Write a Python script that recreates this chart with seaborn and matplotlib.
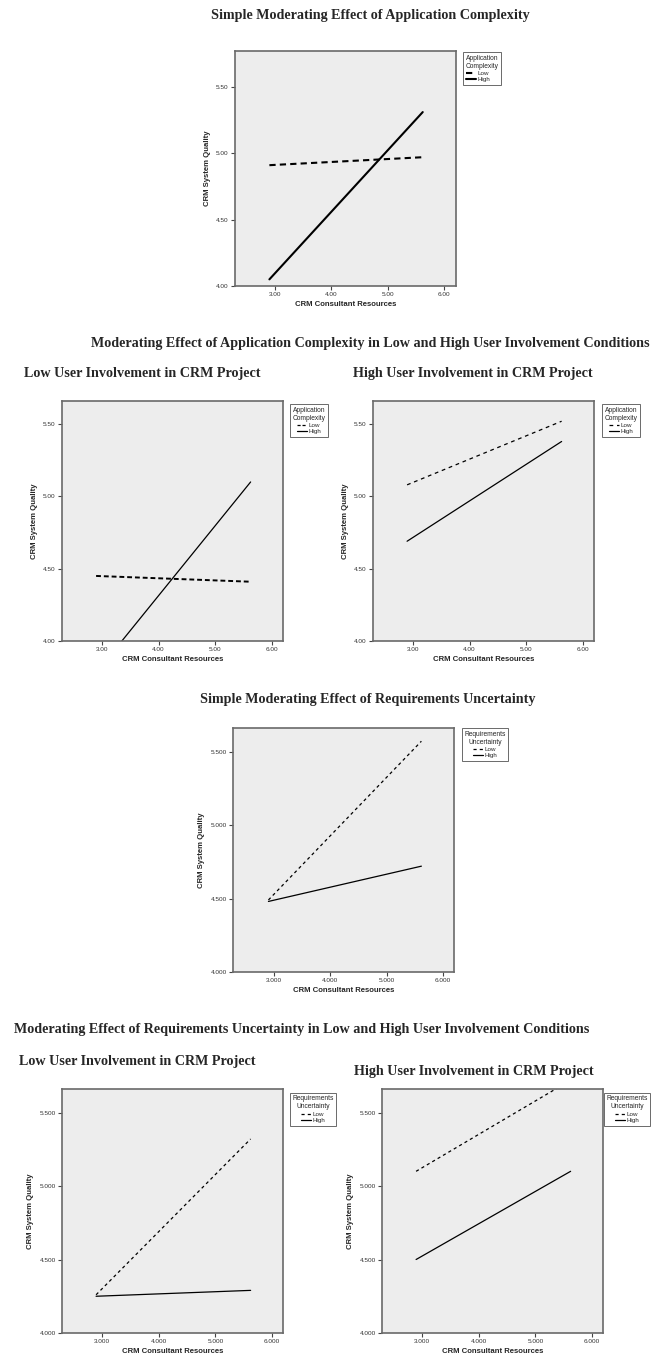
import pandas as pd
import seaborn as sns
import matplotlib.pyplot as plt
from matplotlib.ticker import FormatStrFormatter

# ========= DATA =========
X_ENDS = [2.9, 5.62]
GROUPS = ["Low", "High"]

# application complexity
ac_simple_low = [4.91, 4.97]
ac_simple_high = [4.05, 5.31]
ac_lowui_low = [4.45, 4.41]
ac_lowui_high = [3.78, 5.10]
ac_highui_low = [5.08, 5.52]
ac_highui_high = [4.69, 5.38]

# requirements uncertainty
ru_simple_low = [4.49, 5.57]
ru_simple_high = [4.48, 4.72]
ru_lowui_low = [4.26, 5.32]
ru_lowui_high = [4.25, 4.29]
ru_highui_low = [5.10, 5.72]
ru_highui_high = [4.50, 5.10]

X_TICKS = [3, 4, 5, 6]
Y_TICKS = [4.0, 4.5, 5.0, 5.5]

MAIN_TITLES = [
    "Simple Moderating Effect of Application Complexity",
    "Moderating Effect of Application Complexity in Low and High User Involvement Conditions",
    "Simple Moderating Effect of Requirements Uncertainty",
    "Moderating Effect of Requirements Uncertainty in Low and High User Involvement Conditions",
]
SUB_LOW = "Low User Involvement in CRM Project"
SUB_HIGH = "High User Involvement in CRM Project"
XLABEL = "CRM Consultant Resources"
YLABEL = "CRM System Quality"

# ========= STYLE =========
sns.set_style("white")
plt.rcParams["font.family"] = ["Liberation Sans", "DejaVu Sans"]
SERIF = ["Liberation Serif", "DejaVu Serif"]
TITLE_SIZE = 10.2

W, H = 657, 1358
fig = plt.figure(figsize=(W / 100, H / 100), dpi=100)


def px_axes(left, top, right, bottom):
    return fig.add_axes([left / W, 1 - bottom / H, (right - left) / W, (bottom - top) / H])


def fig_title(text, xc, yc):
    fig.text(xc / W, 1 - yc / H, text, ha="center", va="center",
             fontsize=TITLE_SIZE, fontweight="bold", family=SERIF)


def panel(ax, low, high, legend_title, leg_xy, fmt, lw, dash, ylim_top, xlim,
          title_align="center"):
    df = pd.DataFrame({
        "x": X_ENDS * 2,
        "y": low + high,
        "group": [GROUPS[0]] * 2 + [GROUPS[1]] * 2,
    })
    sns.lineplot(data=df, x="x", y="y", hue="group", style="group",
                 palette={"Low": "black", "High": "black"},
                 dashes={"Low": dash, "High": ""}, linewidth=lw, ax=ax)
    ax.set_facecolor("#ededed")
    for s in ax.spines.values():
        s.set_color("#6a6a6a")
        s.set_linewidth(1.2)
    ax.set_xlim(*xlim)
    ax.set_ylim(4.0, ylim_top)
    ax.set_xticks(X_TICKS)
    ax.set_yticks(Y_TICKS)
    ax.xaxis.set_major_formatter(FormatStrFormatter(fmt))
    ax.yaxis.set_major_formatter(FormatStrFormatter(fmt))
    ax.tick_params(axis="both", which="major", length=3, width=0.8, color="#444444",
                   labelsize=4.6, labelcolor="#333333", direction="out",
                   left=True, bottom=True, pad=1.5)
    ax.set_xlabel(XLABEL, fontsize=5.6, fontweight="bold", labelpad=3)
    ax.set_ylabel(YLABEL, fontsize=5.6, fontweight="bold", labelpad=4)
    handles, labels = ax.get_legend_handles_labels()
    leg = ax.legend(handles, labels, title=legend_title.replace(" ", "\n"),
                    loc="upper left", bbox_to_anchor=(leg_xy[0] / W, 1 - leg_xy[1] / H),
                    bbox_transform=fig.transFigure, fontsize=4.5, title_fontsize=4.8,
                    frameon=True, fancybox=False, edgecolor="#444444",
                    handlelength=1.6, handletextpad=0.3, borderpad=0.4,
                    labelspacing=0.15, borderaxespad=0, alignment=title_align)
    leg.get_title().set_multialignment(title_align)
    leg.get_frame().set_linewidth(0.7)


# ---- Panel 1 ----
fig_title(MAIN_TITLES[0], 370, 16)
ax1 = px_axes(235, 51, 456, 286)
panel(ax1, ac_simple_low, ac_simple_high, "Application Complexity", (463, 52),
      "%.2f", 1.5, (3, 2), 5.77, (2.29, 6.21), title_align="left")

# ---- Panels 2 & 3 ----
fig_title(MAIN_TITLES[1], 370, 343)
fig_title(SUB_LOW, 142, 373)
fig_title(SUB_HIGH, 473, 373)
ax2 = px_axes(62, 401, 283, 641)
panel(ax2, ac_lowui_low, ac_lowui_high, "Application Complexity", (290, 404),
      "%.2f", 0.9, (2.5, 1.5), 5.66, (2.30, 6.19))
ax2.get_lines()[0].set_linewidth(1.4)
ax3 = px_axes(373, 401, 594, 641)
panel(ax3, ac_highui_low, ac_highui_high, "Application Complexity", (602, 404),
      "%.2f", 0.9, (3, 3), 5.66, (2.30, 6.19))

# ---- Panel 4 ----
fig_title(MAIN_TITLES[2], 368, 700)
ax4 = px_axes(233, 728, 454, 972)
panel(ax4, ru_simple_low, ru_simple_high, "Requirements Uncertainty", (462, 728),
      "%.3f", 0.9, (2.5, 2.5), 5.66, (2.27, 6.20))

# ---- Panels 5 & 6 ----
fig_title(MAIN_TITLES[3], 302, 1029)
fig_title(SUB_LOW, 137, 1062)
fig_title(SUB_HIGH, 474, 1072)
ax5 = px_axes(62, 1089, 283, 1333)
panel(ax5, ru_lowui_low, ru_lowui_high, "Requirements Uncertainty", (290, 1093),
      "%.3f", 0.9, (2.5, 2.5), 5.66, (2.30, 6.19))
ax6 = px_axes(382, 1089, 603, 1333)
panel(ax6, ru_highui_low, ru_highui_high, "Requirements Uncertainty", (604, 1093),
      "%.3f", 0.9, (2.5, 2.5), 5.66, (2.30, 6.19))

fig.savefig("out.png", dpi=100, facecolor="white")
